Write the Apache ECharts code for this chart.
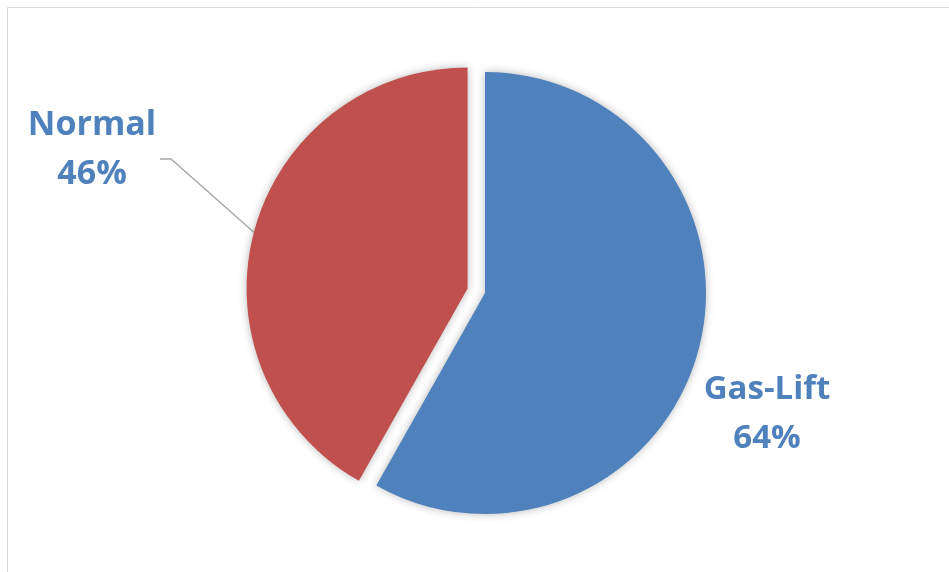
<!DOCTYPE html>
<html>
<head>
<meta charset="utf-8">
<script src="https://cdn.jsdelivr.net/npm/echarts@6/dist/echarts.min.js"></script>
<style>
  html, body { margin: 0; padding: 0; background: #ffffff; }
  #chart { width: 949px; height: 572px; }
</style>
</head>
<body>
<div id="chart"></div>
<script>
// Well types and their shares (percent)
const categories = ['Gas-Lift', 'Normal'];
const shares = [64, 46];
const sliceColors = ['#4F81BD', '#C0504D'];

const chart = echarts.init(document.getElementById('chart'), null, { renderer: 'canvas' });

const PIE_CENTER = [485, 293];
const PIE_RADIUS = 221;
const EXPLODE = 18;

// Mid-angle of the "Normal" slice (degrees, counter-clockwise from 12 o'clock)
const total = shares.reduce((a, b) => a + b, 0);
const normalMid = (shares[1] / total) * 180;
const rad = normalMid * Math.PI / 180;
const explodedCenter = [
  PIE_CENTER[0] - EXPLODE * Math.sin(rad),
  PIE_CENTER[1] - EXPLODE * Math.cos(rad)
];

const labelFont = {
  formatter: p => p.name + '\n' + p.value + '%',
  fontFamily: '"Open Sans", sans-serif',
  fontWeight: 'bold',
  fontSize: 33,
  lineHeight: 49,
  color: '#4F81BD',
  align: 'center'
};

const shadow = { shadowBlur: 8, shadowColor: 'rgba(0,0,0,0.28)' };
const hidden = {
  itemStyle: { color: 'rgba(0,0,0,0)', shadowBlur: 0 },
  label: { show: false },
  labelLine: { show: false }
};

// One pie per slice so the "Normal" slice can be pulled out of the pie
function sliceData(visibleIndex) {
  return categories.map((name, i) => i === visibleIndex
    ? { name: name, value: shares[i], itemStyle: Object.assign({ color: sliceColors[i] }, shadow) }
    : Object.assign({ name: name, value: shares[i] }, hidden));
}

const base = {
  type: 'pie',
  radius: PIE_RADIUS,
  startAngle: 90,
  clockwise: true,
  silent: true,
  emphasis: { disabled: true },
  label: Object.assign({ show: true }, labelFont)
};

chart.setOption({
  animation: false,
  graphic: [{
    type: 'rect',
    shape: { x: 7.5, y: 7.5, width: 1000, height: 700 },
    style: { fill: 'none', stroke: '#d9d9d9', lineWidth: 1 },
    silent: true
  }],
  series: [
    Object.assign({}, base, {
      name: 'Gas-Lift',
      center: PIE_CENTER,
      labelLine: { show: false },
      labelLayout: () => ({ x: 767, y: 414, align: 'center', verticalAlign: 'middle' }),
      data: sliceData(0)
    }),
    Object.assign({}, base, {
      name: 'Normal',
      center: explodedCenter,
      labelLine: { show: true, lineStyle: { color: '#a6a6a6', width: 1.3 } },
      label: Object.assign({ show: true }, labelFont, { fontSize: 34 }),
      labelLayout: function (params) {
        const start = params.labelLinePoints ? params.labelLinePoints[0] : [270, 190];
        return {
          x: 92, y: 150, align: 'center', verticalAlign: 'middle',
          labelLinePoints: [start, [171, 159], [160, 159]]
        };
      },
      data: sliceData(1)
    })
  ]
});
</script>
</body>
</html>
